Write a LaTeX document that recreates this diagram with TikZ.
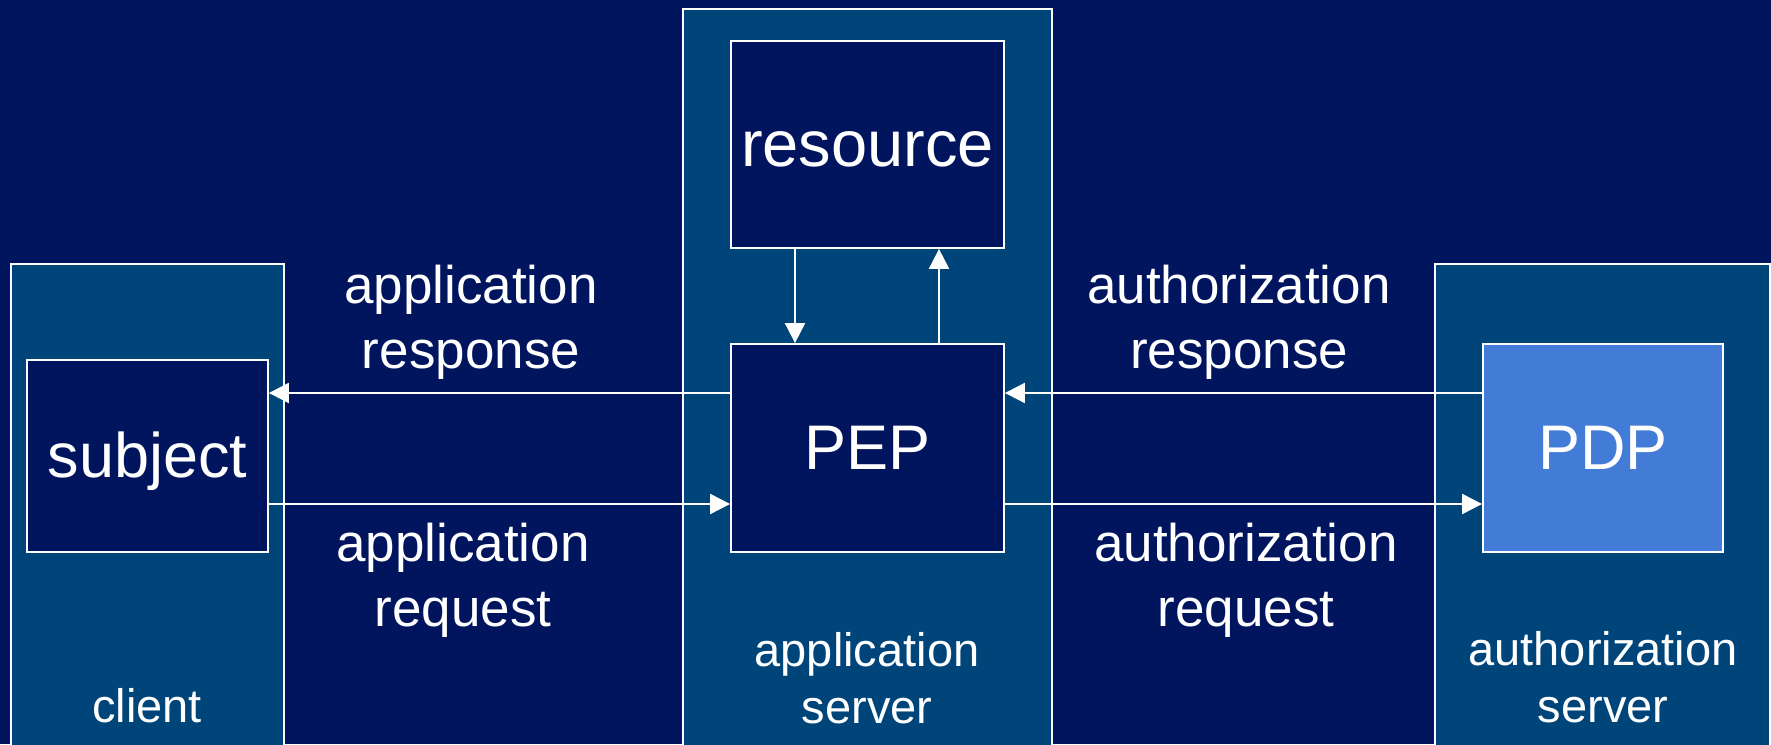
\documentclass[tikz,border=0pt]{standalone}
\usepackage{fontspec}
\setmainfont{Liberation Sans}
\usepackage{xcolor}
\usepackage{tikz}
\usetikzlibrary{arrows.meta,positioning,calc}
\definecolor{navyB}{RGB}{0,21,94}
\definecolor{srvB}{RGB}{0,69,122}
\definecolor{pdpB}{RGB}{66,124,214}

\begin{document}
\begin{tikzpicture}[
  x=0.5pt,y=0.5pt,
  srv/.style={rectangle,draw=white,fill=srvB,line width=0.9pt,inner sep=0pt},
  blk/.style={rectangle,draw=white,fill=navyB,line width=0.9pt,inner sep=0pt,text=white,
    minimum width=136.5pt,minimum height=104pt,text height=28.5pt,text depth=6.7pt,
    font=\fontsize{31.5}{36}\selectfont},
  flow/.style={-{Triangle[length=10pt,width=10pt]},white,line width=1pt},
  elbl/.style={text=white,align=center,inner sep=0pt,font=\fontsize{26.5}{32.5}\selectfont},
  slbl/.style={text=white,align=center,inner sep=0pt,font=\fontsize{23.5}{28.5}\selectfont}
]
  % ---------------- background ----------------
  \fill[navyB] (0,0) rectangle (1771,744);
  \useasboundingbox (0,0) rectangle (1771,744);
  % ---------------- servers ----------------
  \node[srv,minimum width=136.5pt,minimum height=241pt] (client) at (147.5,239) {};
  \node[srv,minimum width=184.5pt,minimum height=368.5pt] (appsrv) at (867.5,366.5) {};
  \node[srv,minimum width=167.5pt,minimum height=241pt] (authsrv) at (1602.5,239) {};
  \node[slbl] (clientlbl) at (147,38) {client};
  \node[slbl] (appsrvlbl) at (867,66) {application\\server};
  \node[slbl] (authsrvlbl) at (1603,67) {authorization\\server};
  % ---------------- components ----------------
  \node[blk,minimum width=120.5pt,minimum height=96pt] (subject) at (147.5,288) {subject};
  \node[blk,minimum height=103.5pt,font=\fontsize{32.5}{36}\selectfont] (resource) at (867.5,599.5) {resource};
  \node[blk] (PEP) at (867.5,296) {PEP};
  \node[blk,fill=pdpB,minimum width=120pt] (PDP) at (1603,296) {PDP};
  % ---------------- flows ----------------
  \coordinate (resp) at (0,351);
  \coordinate (req) at (0,240);
  \coordinate (down) at (795,0);
  \coordinate (up) at (939,0);
  \draw[flow] (PEP.west |- resp) -- (subject.east |- resp);
  \draw[flow] (subject.east |- req) -- (PEP.west |- req);
  \draw[flow] (PDP.west |- resp) -- (PEP.east |- resp);
  \draw[flow] (PEP.east |- req) -- (PDP.west |- req);
  \draw[flow] (resource.south -| down) -- (PEP.north -| down);
  \draw[flow] (PEP.north -| up) -- (resource.south -| up);
  % ---------------- flow labels ----------------
  \node[elbl] (appresp) at (471,422) {application\\response};
  \node[elbl] (appreq) at (463,164) {application\\request};
  \node[elbl] (authresp) at (1239,422) {authorization\\response};
  \node[elbl] (authreq) at (1246,164) {authorization\\request};
\end{tikzpicture}
\end{document}
